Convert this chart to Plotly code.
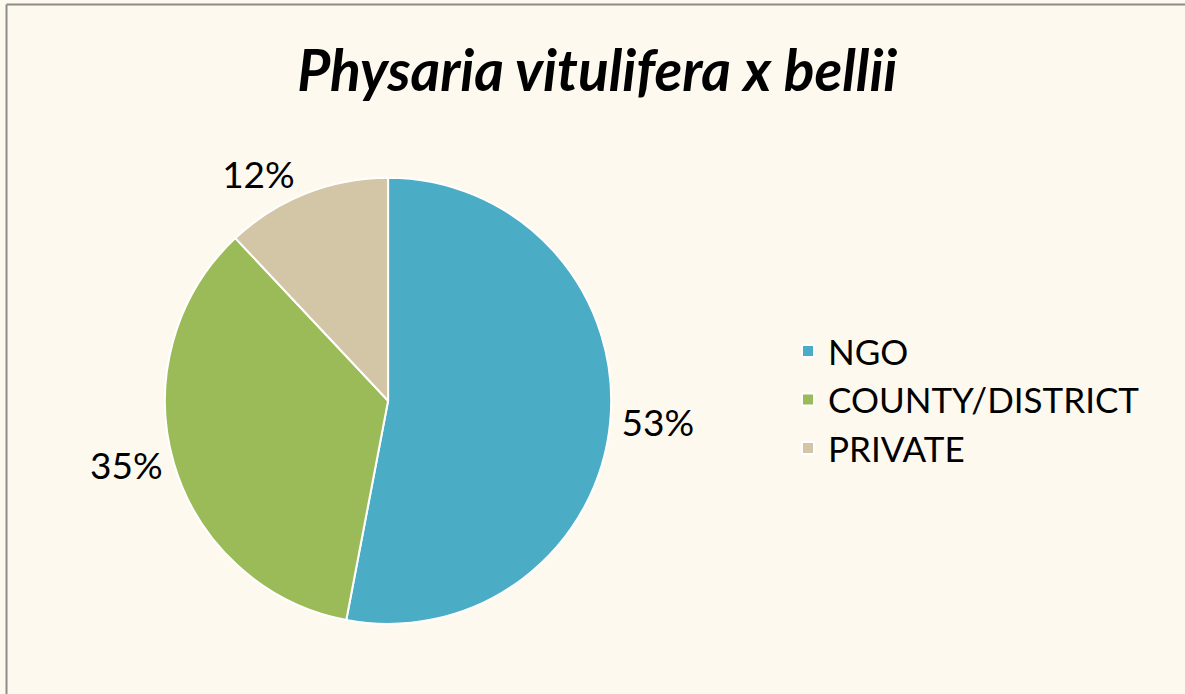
import plotly.graph_objects as go

categories = ["NGO", "COUNTY/DISTRICT", "PRIVATE"]
values = [53, 35, 12]
colors = ["#4BACC6", "#9BBB59", "#D3C6A6"]
title_text = "<b><i>Physaria vitulifera x bellii</i></b>"

fig = go.Figure(
    go.Pie(
        labels=categories,
        values=values,
        sort=False,
        direction="clockwise",
        rotation=0,
        marker=dict(colors=colors, line=dict(color="#FFFFFF", width=2)),
        textinfo="percent",
        texttemplate="%{percent:.0%}",
        textposition="outside",
        textfont=dict(family="Lato", size=37, color="#000000"),
        domain=dict(x=[0.04, 0.615], y=[0.101, 0.744]),
        showlegend=True,
    )
)

fig.update_layout(
    width=1185,
    height=694,
    margin=dict(l=0, r=0, t=0, b=0, autoexpand=False),
    paper_bgcolor="#FEF9EF",
    plot_bgcolor="#FEF9EF",
    title=dict(
        text=title_text,
        font=dict(family="Lato", size=57, color="#000000"),
        x=0.504,
        xanchor="center",
        y=0.897,
        yanchor="middle",
    ),
    legend=dict(
        x=0.665,
        y=0.424,
        xref="container",
        yref="container",
        xanchor="left",
        yanchor="middle",
        font=dict(family="Lato", size=35, color="#000000"),
        bgcolor="rgba(0,0,0,0)",
        itemwidth=30,
    ),
    shapes=[
        dict(type="line", xref="paper", yref="paper", x0=0.0055, y0=0.0, x1=0.0055, y1=0.9935,
             line=dict(color="#8C8C8C", width=2)),
        dict(type="line", xref="paper", yref="paper", x0=0.0055, y0=0.9935, x1=1.0, y1=0.9935,
             line=dict(color="#8C8C8C", width=2)),
    ],
)

fig.write_html("out.html")
